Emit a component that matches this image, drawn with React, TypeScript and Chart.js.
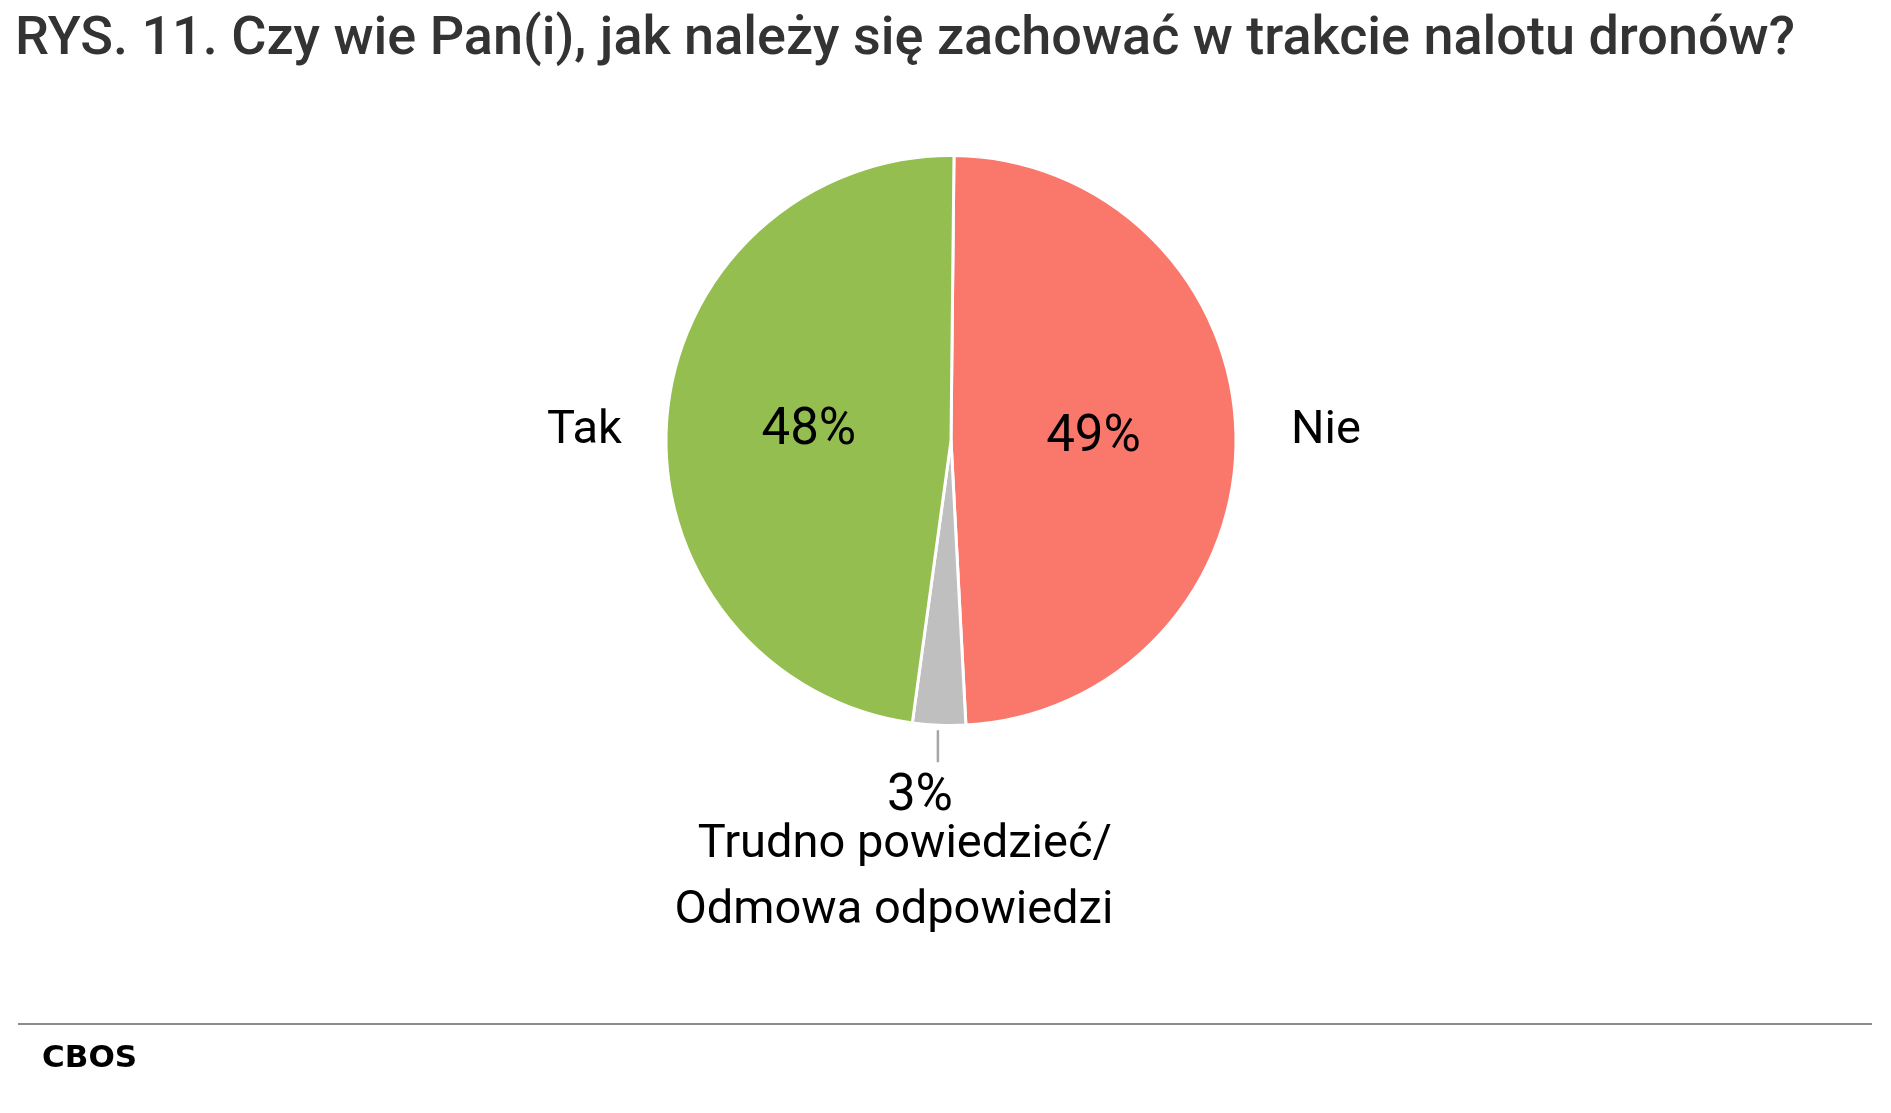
import { useEffect, useRef } from "react";
import { Chart, registerables } from "chart.js";

Chart.register(...registerables);

const TITLE = "RYS. 11. Czy wie Pan(i), jak należy się zachować w trakcie nalotu dronów?";
const SOURCE = "CBOS";

const categories = ["Nie", "Trudno powiedzieć/\nOdmowa odpowiedzi", "Tak"];
const values = [49, 3, 48];
const sliceColors = ["#FA776C", "#BFBFBF", "#94BE50"];
// which slice gets the leader line + label below the pie
const CALLOUT_IDX = 1;

const PCT_FONT = "51px Roboto";
const CAT_FONT = "47px Roboto";

const pieLabels = {
  id: "pieLabels",
  afterDatasetsDraw(chart: any) {
    const ctx = chart.ctx;
    const meta = chart.getDatasetMeta(0);
    ctx.save();
    ctx.fillStyle = "#000";

    meta.data.forEach((arc: any, i: number) => {
      const { x: cx, y: cy, outerRadius: r, startAngle, endAngle } = arc.getProps(
        ["x", "y", "outerRadius", "startAngle", "endAngle"],
        true
      );
      const mid = (startAngle + endAngle) / 2;
      const pct = `${values[i]}%`;
      const lines = categories[i].split("\n");

      if (i === CALLOUT_IDX) {
        const lx = cx + Math.cos(mid) * (r + 4);
        const ly = cy + Math.sin(mid) * (r + 4);
        ctx.strokeStyle = "#A6A6A6";
        ctx.lineWidth = 2.5;
        ctx.beginPath();
        ctx.moveTo(lx - 1, ly + 1);
        ctx.lineTo(lx - 1, ly + 33);
        ctx.stroke();

        ctx.textAlign = "center";
        ctx.textBaseline = "alphabetic";
        ctx.font = PCT_FONT;
        ctx.fillText(pct, lx - 19, ly + 81);
        ctx.font = CAT_FONT;
        ctx.fillText(lines[0], lx - 34, ly + 128);
        ctx.fillText(lines[1], lx - 45, ly + 194);
        return;
      }

      // percentage inside the slice
      const c = arc.getCenterPoint();
      ctx.font = PCT_FONT;
      ctx.textAlign = "center";
      ctx.textBaseline = "middle";
      ctx.fillText(pct, c.x, c.y + 1);

      // category name beside the pie
      const right = Math.cos(mid) >= 0;
      const ox = cx + Math.cos(mid) * (r + (right ? 55 : 45));
      ctx.font = CAT_FONT;
      ctx.textAlign = right ? "left" : "right";
      ctx.textBaseline = "alphabetic";
      ctx.fillText(lines[0], ox, cy + 2);
    });
    ctx.restore();
  },
};

function PieChart() {
  const canvasRef = useRef<HTMLCanvasElement>(null);

  useEffect(() => {
    if (!canvasRef.current) return;
    const chart = new Chart(canvasRef.current, {
      type: "pie",
      data: {
        labels: categories,
        datasets: [
          {
            data: values,
            backgroundColor: sliceColors,
            borderColor: "#ffffff",
            borderWidth: 3,
          },
        ],
      },
      options: {
        responsive: false,
        animation: false,
        rotation: 0.6,
        layout: {
          padding: { left: 598, right: 587, top: 154, bottom: 386 },
        },
        plugins: {
          legend: { display: false },
          tooltip: { enabled: false },
        },
      },
      plugins: [pieLabels],
    });
    return () => chart.destroy();
  }, []);

  return (
    <canvas
      ref={canvasRef}
      width={1891}
      height={1113}
      style={{ position: "absolute", left: 0, top: 0, width: 1891, height: 1113 }}
    />
  );
}

export default function App() {
  useEffect(() => {
    document.body.style.margin = "0";
  }, []);

  return (
    <div
      style={{
        position: "relative",
        width: 1891,
        height: 1113,
        background: "#fff",
        overflow: "hidden",
      }}
    >
      <PieChart />
      <div
        style={{
          position: "absolute",
          left: 15,
          top: 9,
          fontFamily: "Roboto",
          fontWeight: 500,
          fontSize: 54,
          lineHeight: "54px",
          color: "#333333",
          whiteSpace: "nowrap",
        }}
      >
        {TITLE}
      </div>
      <div
        style={{
          position: "absolute",
          left: 18,
          top: 1023,
          width: 1854,
          height: 2,
          background: "#8C8C8C",
        }}
      />
      <div
        style={{
          position: "absolute",
          left: 42,
          top: 1041,
          fontFamily: "'DejaVu Sans'",
          fontWeight: 700,
          fontSize: 31,
          lineHeight: "31px",
          color: "#000",
        }}
      >
        {SOURCE}
      </div>
    </div>
  );
}
